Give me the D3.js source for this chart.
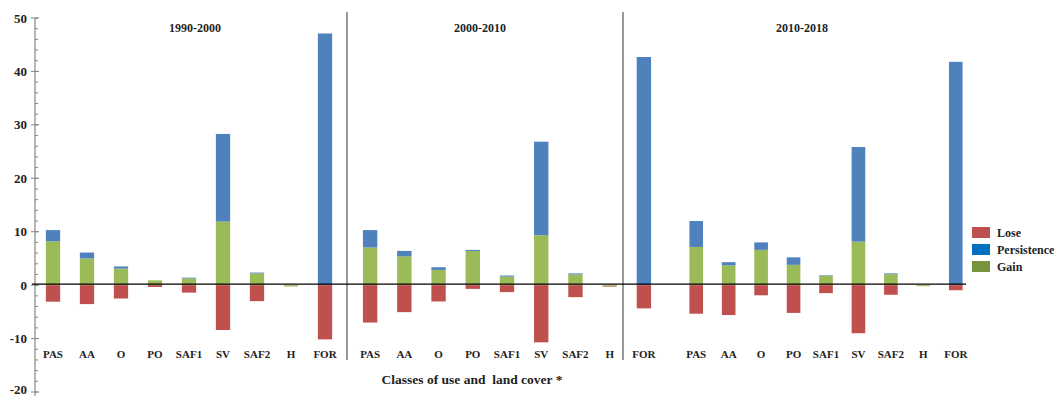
<!DOCTYPE html>
<html>
<head>
<meta charset="utf-8">
<script src="https://cdn.jsdelivr.net/npm/d3@7"></script>
<style>
  body { margin: 0; background: #fff; }
  text { font-family: "Liberation Serif", "Times New Roman", serif; font-weight: bold; fill: #222; }
</style>
</head>
<body>
<div id="chart-area"></div>
<script>
var classes = ['PAS', 'AA', 'O', 'PO', 'SAF1', 'SV', 'SAF2', 'H', 'FOR'];
var periods = ['1990-2000', '2000-2010', '2010-2018'];
var seriesNames = ['Lose', 'Persistence', 'Gain'];
var yTicks = [-20, -10, 0, 10, 20, 30, 40, 50];

// values in % per class, one array per period and series
var gain1990 = [8.2, 5.0, 3.1, 0.9, 1.25, 11.9, 2.2, -0.25, 0];
var persist1990 = [2.1, 1.1, 0.4, 0.0, 0.15, 16.4, 0.15, 0, 47.1];
var lose1990 = [-3.1, -3.55, -2.5, -0.35, -1.4, -8.4, -3.0, 0, -10.15];

var gain2000 = [7.05, 5.4, 2.85, 6.4, 1.6, 9.35, 2.0, -0.2, 0];
var persist2000 = [3.25, 1.0, 0.5, 0.2, 0.2, 17.5, 0.2, 0, 42.7];
var lose2000 = [-7.0, -5.05, -3.05, -0.7, -1.3, -10.7, -2.25, -0.1, -4.35];

var gain2010 = [7.15, 3.7, 6.6, 3.8, 1.75, 8.15, 2.05, -0.2, 0];
var persist2010 = [4.85, 0.6, 1.4, 1.4, 0.1, 17.7, 0.15, 0, 41.8];
var lose2010 = [-5.35, -5.6, -1.9, -5.2, -1.5, -9.0, -1.8, 0, -0.95];

var gains = [gain1990, gain2000, gain2010];
var persists = [persist1990, persist2000, persist2010];
var loses = [lose1990, lose2000, lose2010];

var width = 1054, height = 396;
var color = { Lose: '#C0504D', Persistence: '#4F81BD', Gain: '#9BBB59' };
var legendColor = { Lose: '#C0504D', Persistence: '#0070C0', Gain: '#77933C' };

var svg = d3.select('#chart-area').append('svg')
  .attr('width', width)
  .attr('height', height);

var y = d3.scaleLinear().domain([-20, 50]).range([392, 18]);

// each period has its own band of classes
var panelRanges = [[36, 342], [353, 661], [680, 972]];
var dividers = [347, 623];

// y axis
var yAxis = svg.append('g').attr('transform', 'translate(35,0)');
yAxis.append('line')
  .attr('y1', y(50)).attr('y2', y(-20) + 4)
  .attr('stroke', '#868686').attr('stroke-width', 1.2);
yAxis.selectAll('.minor').data(d3.range(-20, 51, 2))
  .enter().append('line')
  .attr('x1', 0).attr('x2', 3)
  .attr('y1', d => y(d)).attr('y2', d => y(d))
  .attr('stroke', '#868686');
yAxis.selectAll('.major').data(yTicks)
  .enter().append('line')
  .attr('x1', -4).attr('x2', 4)
  .attr('y1', d => y(d)).attr('y2', d => y(d))
  .attr('stroke', '#868686');
yAxis.selectAll('.lbl').data(yTicks)
  .enter().append('text')
  .attr('x', -8)
  .attr('y', d => Math.min(y(d) + 4.5, 394))
  .attr('text-anchor', 'end')
  .attr('font-size', '13px')
  .text(d => d);

// panel dividers
svg.selectAll('.divider').data(dividers)
  .enter().append('line')
  .attr('x1', d => d).attr('x2', d => d)
  .attr('y1', 12).attr('y2', 360)
  .attr('stroke', '#777').attr('stroke-width', 1.5);

var stack = d3.stack()
  .keys(['Gain', 'Persistence', 'Lose'])
  .offset(d3.stackOffsetDiverging);

periods.forEach((period, p) => {
  var x = d3.scaleBand().domain(classes).range(panelRanges[p])
    .paddingInner(0.58).paddingOuter(0.29);

  var rows = classes.map((c, i) => ({
    cls: c, Gain: gains[p][i], Persistence: persists[p][i], Lose: loses[p][i]
  }));

  var g = svg.append('g');
  g.selectAll('.series').data(stack(rows))
    .enter().append('g')
    .attr('fill', d => color[d.key])
    .selectAll('rect').data(d => d)
    .enter().append('rect')
    .attr('x', d => x(d.data.cls))
    .attr('width', x.bandwidth())
    .attr('y', d => y(Math.max(d[0], d[1])))
    .attr('height', d => Math.max(Math.abs(y(d[0]) - y(d[1])), 0));

  g.selectAll('.cat').data(classes)
    .enter().append('text')
    .attr('x', d => x(d) + x.bandwidth() / 2)
    .attr('y', 358)
    .attr('text-anchor', 'middle')
    .attr('font-size', '11px')
    .text(d => d);

  svg.append('text')
    .attr('x', [195, 480, 802][p])
    .attr('y', 32)
    .attr('text-anchor', 'middle')
    .attr('font-size', '12px')
    .text(period);
});

// zero line
svg.append('line')
  .attr('x1', 32).attr('x2', 966)
  .attr('y1', y(0) - 1).attr('y2', y(0) - 1)
  .attr('stroke', '#000').attr('stroke-width', 1.2);

// x axis title
svg.append('text')
  .attr('x', 472)
  .attr('y', 384)
  .attr('text-anchor', 'middle')
  .attr('font-size', '13.5px')
  .style('white-space', 'pre')
  .text('Classes of use and  land cover *');

// legend
var legend = svg.append('g').attr('transform', 'translate(972, 227)');
seriesNames.forEach((s, i) => {
  var row = legend.append('g').attr('transform', `translate(0, ${i * 17})`);
  row.append('rect')
    .attr('width', 18).attr('height', 11)
    .attr('fill', legendColor[s]);
  row.append('text')
    .attr('x', 25).attr('y', 10)
    .attr('font-size', '12px')
    .text(s);
});
</script>
</body>
</html>
